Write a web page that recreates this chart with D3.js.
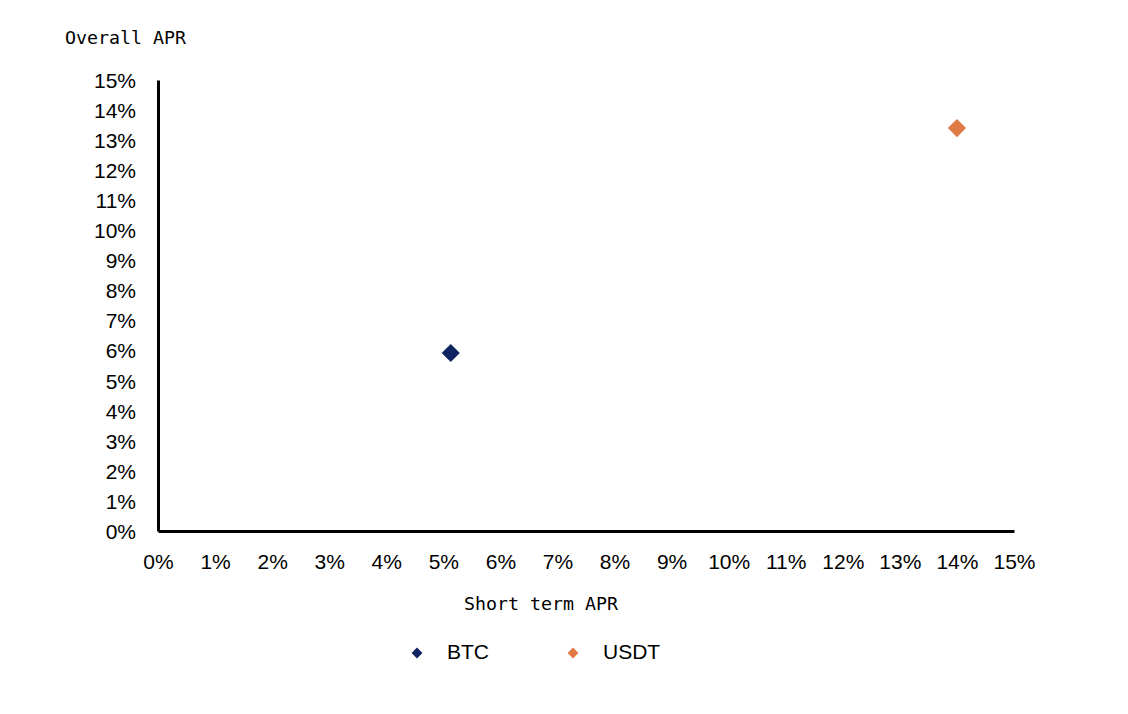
<!DOCTYPE html>
<html>
<head>
<meta charset="utf-8">
<script src="https://cdn.jsdelivr.net/npm/d3@7"></script>
<style>
  body { margin: 0; background: #fff; }
  .tick-label { font-family: "Liberation Sans", Arial, sans-serif; font-size: 21px; fill: #000; }
  .axis-title { font-family: "DejaVu Sans Mono", "Liberation Mono", monospace; font-size: 18.3px; fill: #000; }
  .legend-text { font-family: "Liberation Sans", Arial, sans-serif; font-size: 21px; fill: #000; }
</style>
</head>
<body>
<div id="chart"></div>
<script>
// data
var coins = ["BTC", "USDT"];
var shortTermApr = [5.13, 14.0];
var overallApr = [5.92, 13.4];
var coinColors = ["#0f2461", "#e07b45"];
var tickValues = [0, 1, 2, 3, 4, 5, 6, 7, 8, 9, 10, 11, 12, 13, 14, 15];

var svgWidth = 1128;
var svgHeight = 714;
var margin = { top: 80, right: 114, bottom: 183, left: 158 };
var width = svgWidth - margin.left - margin.right;
var height = svgHeight - margin.top - margin.bottom;

var svg = d3.select("#chart")
  .append("svg")
  .attr("width", svgWidth)
  .attr("height", svgHeight);

var chartGroup = svg.append("g")
  .attr("transform", `translate(${margin.left}, ${margin.top})`);

var x = d3.scaleLinear().domain([0, 15]).range([0, width]);
var y = d3.scaleLinear().domain([0, 15]).range([height, 0]);

// y axis
var yAxis = chartGroup.append("g")
  .call(d3.axisLeft(y).tickValues(tickValues).tickSize(0).tickPadding(22)
    .tickFormat(d => d + "%"));
yAxis.select(".domain").attr("stroke", "#000").attr("stroke-width", 3);
yAxis.selectAll("text").attr("class", "tick-label").attr("dy", "0.35em");

// x axis
var xAxis = chartGroup.append("g")
  .attr("transform", `translate(0, ${height})`)
  .call(d3.axisBottom(x).tickValues(tickValues).tickSize(0).tickPadding(23)
    .tickFormat(d => d + "%"));
xAxis.select(".domain").attr("stroke", "#000").attr("stroke-width", 3);
xAxis.selectAll("text").attr("class", "tick-label");

// axis titles
svg.append("text")
  .attr("class", "axis-title")
  .attr("x", 65)
  .attr("y", 44)
  .text("Overall APR");

svg.append("text")
  .attr("class", "axis-title")
  .attr("x", 464)
  .attr("y", 610)
  .text("Short term APR");

// points
var diamond = d3.symbol().type(d3.symbolDiamond2).size(210);
chartGroup.selectAll("path.point")
  .data(coins)
  .enter()
  .append("path")
  .attr("class", "point")
  .attr("d", diamond)
  .attr("transform", (d, i) => `translate(${x(shortTermApr[i])}, ${y(overallApr[i])})`)
  .attr("fill", (d, i) => coinColors[i]);

// legend
var legendX = [417, 573];
var legendItems = svg.selectAll("g.legend")
  .data(coins)
  .enter()
  .append("g")
  .attr("class", "legend")
  .attr("transform", (d, i) => `translate(${legendX[i]}, 653)`);

legendItems.append("path")
  .attr("d", d3.symbol().type(d3.symbolDiamond2).size(75))
  .attr("fill", (d, i) => coinColors[i]);

legendItems.append("text")
  .attr("class", "legend-text")
  .attr("x", 30)
  .attr("y", 6)
  .text(d => d);
</script>
</body>
</html>
